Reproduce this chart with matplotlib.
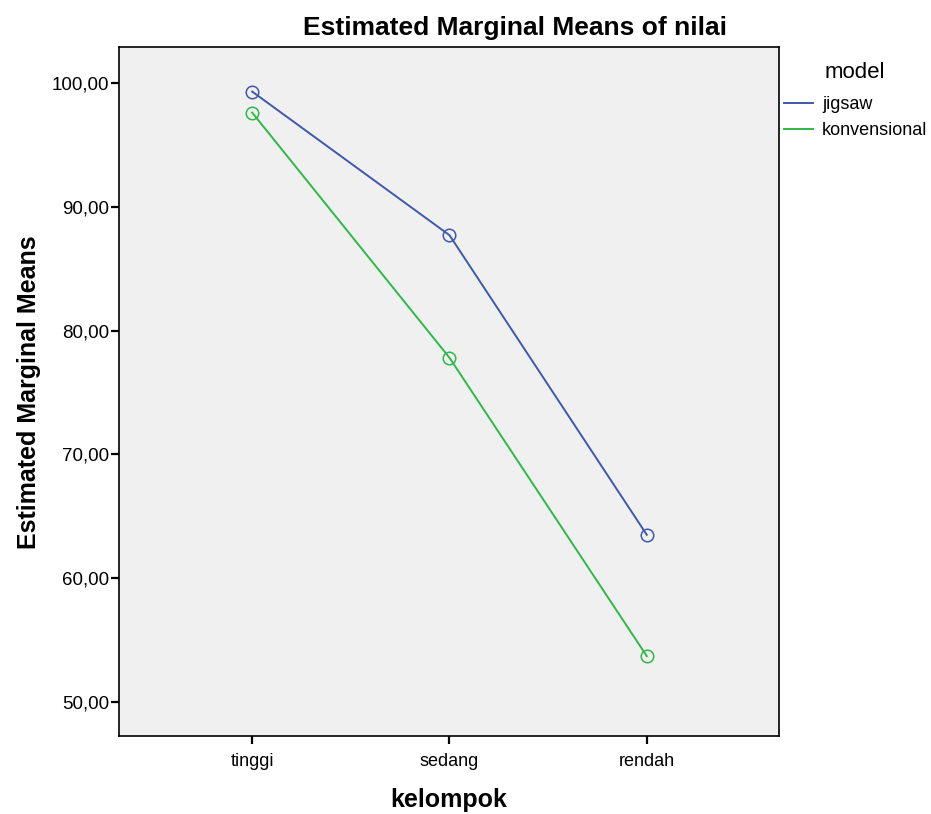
import matplotlib
matplotlib.use("Agg")
import matplotlib.pyplot as plt
from matplotlib.lines import Line2D

categories = ["tinggi", "sedang", "rendah"]
series_names = ["jigsaw", "konvensional"]
jigsaw = [99.3, 87.7, 63.5]
konvensional = [97.6, 77.8, 53.7]
yticks = [50, 60, 70, 80, 90, 100]
colors = ["#3E58AC", "#2EB848"]

plt.rcParams['font.family'] = ['Liberation Sans', 'DejaVu Sans']

fig = plt.figure(figsize=(9.31, 8.14), dpi=100)
ax = fig.add_axes([119/931, 1-736/814, (779-119)/931, (736-47)/814])
ax.set_facecolor("#F0F0F0")

x = list(range(len(categories)))
for vals, c in zip([jigsaw, konvensional], colors):
    ax.plot(x, vals, color=c, lw=1.4, marker='o', markersize=9,
            markerfacecolor='none', markeredgecolor=c, markeredgewidth=1.1)

ax.set_xlim(-0.675, 2.67)
ax.set_ylim(47.25, 102.9)
ax.set_xticks(x)
ax.set_xticklabels(categories, fontsize=13)
ax.set_yticks(yticks)
ax.set_yticklabels([f"{v:.2f}".replace('.', ',') for v in yticks], fontsize=13.5)
ax.tick_params(axis='both', direction='out', length=6, width=1.6, color='black')
ax.tick_params(axis='x', pad=6)
ax.tick_params(axis='y', pad=1)
for s in ax.spines.values():
    s.set_linewidth(1.2)
    s.set_color('black')

fig.text(515/931, 1-28/814, "Estimated Marginal Means of nilai", ha='center', va='center',
         fontsize=19, fontweight='bold')
fig.text(29/931, 1-392/814, "Estimated Marginal Means", ha='center', va='center',
         rotation=90, fontsize=18, fontweight='bold')
fig.text(449/931, 1-800/814, "kelompok", ha='center', va='center',
         fontsize=18, fontweight='bold')
fig.text(825/931, 1-72/814, "model", ha='left', va='center', fontsize=16)

handles = [Line2D([0], [0], color=c, lw=1.4) for c in colors]
leg = fig.legend(handles, series_names, loc='upper left',
                 bbox_to_anchor=(784/931, 1-96/814), frameon=False, fontsize=13,
                 handlelength=1.6, handletextpad=0.5,
                 labelspacing=0.52, borderaxespad=0, borderpad=0)

fig.savefig("out.png", dpi=100)
